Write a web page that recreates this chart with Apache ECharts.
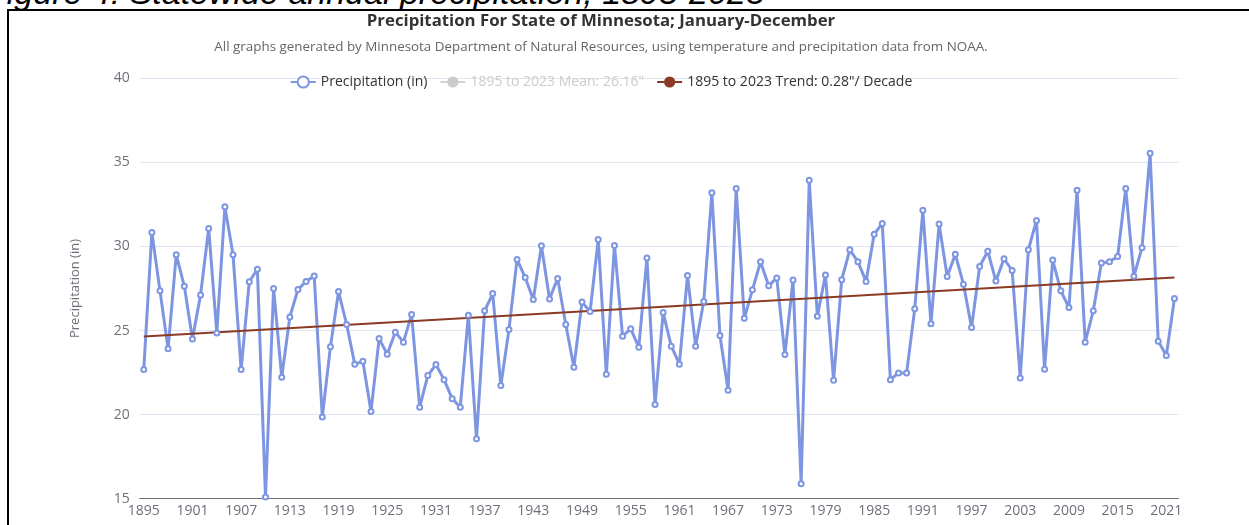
<!DOCTYPE html>
<html>
<head>
<meta charset="utf-8">
<script src="https://cdn.jsdelivr.net/npm/echarts@6/dist/echarts.min.js"></script>
<style>
    html, body { margin: 0; padding: 0; background: #fff; overflow: hidden; }
    #caption {
        position: absolute; left: -14px; top: -27px;
        font-family: "Liberation Sans", sans-serif; font-style: italic;
        font-size: 34px; color: #000; white-space: nowrap;
    }
    #frame {
        position: absolute; left: 7px; top: 9px; width: 1400px; height: 600px;
        border-top: 2px solid #000; border-left: 2px solid #000; background: #fff;
    }
    #chart { position: absolute; left: 0; top: 0; width: 1202px; height: 525px; }
</style>
</head>
<body>
<div id="caption">Figure 4: Statewide annual precipitation, 1895-2023</div>
<div id="frame"></div>
<div id="chart"></div>
<script>
const firstYear = 1895;
const precipitation = [
    22.68, 30.83, 27.36, 23.91, 29.5, 27.64, 24.5, 27.12, 31.07, 24.86,
    32.36, 29.5, 22.68, 27.9, 28.65, 15.1, 27.5, 22.22, 25.81, 27.44,
    27.92, 28.25, 19.86, 24.03, 27.32, 25.36, 23.0, 23.17, 20.18, 24.52,
    23.59, 24.9, 24.31, 25.95, 20.44, 22.32, 22.98, 22.08, 20.95, 20.44,
    25.91, 18.57, 26.17, 27.2, 21.73, 25.06, 29.23, 28.15, 26.85, 30.04,
    26.88, 28.1, 25.36, 22.82, 26.69, 26.13, 30.42, 22.4, 30.06, 24.66,
    25.1, 24.01, 29.31, 20.6, 26.07, 24.07, 23.0, 28.27, 24.07, 26.73,
    33.19, 24.7, 21.45, 33.45, 25.73, 27.42, 29.09, 27.66, 28.13, 23.57,
    28.0, 15.89, 33.93, 25.85, 28.31, 22.04, 28.02, 29.8, 29.09, 27.92,
    30.73, 31.37, 22.08, 22.48, 22.48, 26.29, 32.15, 25.4, 31.33, 28.21,
    29.54, 27.76, 25.18, 28.81, 29.72, 27.94, 29.27, 28.57, 22.18, 29.8,
    31.55, 22.7, 29.19, 27.36, 26.37, 33.35, 24.31, 26.17, 29.01, 29.09,
    29.4, 33.45, 28.23, 29.92, 35.54, 24.37, 23.51, 26.9
];
const meanValue = 26.16;
const trendStart = 24.64;   // value of trend line at first year
const trendEnd = 28.15;     // value of trend line at last year

const years = precipitation.map((v, i) => String(firstYear + i));
const lastIdx = years.length - 1;
const meanData = years.map((y, i) => (i === 0 || i === lastIdx) ? meanValue : null);
const trendData = years.map((y, i) => i === 0 ? trendStart : (i === lastIdx ? trendEnd : null));

const chart = echarts.init(document.getElementById('chart'));
const font = '"Open Sans", "Noto Sans", sans-serif';

chart.setOption({
    animation: false,
    backgroundColor: 'transparent',
    textStyle: { fontFamily: font },
    title: {
        text: 'Precipitation For State of Minnesota; January-December',
        subtext: 'All graphs generated by Minnesota Department of Natural Resources, using temperature and precipitation data from NOAA.',
        left: 'center',
        top: 8,
        itemGap: 11,
        textStyle: { fontSize: 16.8, fontWeight: 'bold', color: '#333', fontFamily: font },
        subtextStyle: { fontSize: 13.4, color: '#666', fontFamily: font }
    },
    legend: {
        top: 70,
        left: 'center',
        itemGap: 12,
        textStyle: { fontSize: 14, color: '#333' },
        inactiveColor: '#ccc',
        data: ['Precipitation (in)', '1895 to 2023 Mean: 26.16"', '1895 to 2023 Trend: 0.28"/ Decade'],
        selected: { '1895 to 2023 Mean: 26.16"': false }
    },
    grid: { left: 139.7, right: 23.5, top: 78.3, bottom: 26.3 },
    xAxis: {
        type: 'category',
        data: years,
        boundaryGap: true,
        axisLine: { lineStyle: { color: '#6E7079' } },
        axisTick: { lineStyle: { color: '#6E7079' } },
        axisLabel: { interval: 5, color: '#6E7079', fontSize: 14, margin: 5 }
    },
    yAxis: {
        type: 'value',
        min: 15,
        max: 40,
        interval: 5,
        name: 'Precipitation (in)',
        nameLocation: 'middle',
        nameGap: 58,
        nameTextStyle: { color: '#6E7079', fontSize: 13 },
        axisLabel: { color: '#6E7079', fontSize: 14, margin: 10 },
        splitLine: { lineStyle: { color: '#E0E6F1' } }
    },
    series: [
        {
            name: 'Precipitation (in)',
            type: 'line',
            data: precipitation,
            symbol: 'emptyCircle',
            symbolSize: 5,
            lineStyle: { color: '#7e96e2', width: 3 },
            itemStyle: { color: '#7e96e2', borderWidth: 1.5 }
        },
        {
            name: '1895 to 2023 Mean: 26.16"',
            type: 'line',
            data: meanData,
            connectNulls: true,
            showSymbol: false,
            symbol: 'circle',
            lineStyle: { color: '#999', width: 2 },
            itemStyle: { color: '#999' }
        },
        {
            name: '1895 to 2023 Trend: 0.28"/ Decade',
            type: 'line',
            data: trendData,
            connectNulls: true,
            showSymbol: false,
            symbol: 'circle',
            lineStyle: { color: '#8b3a24', width: 2 },
            itemStyle: { color: '#8b3a24' }
        }
    ]
});
</script>
</body>
</html>
